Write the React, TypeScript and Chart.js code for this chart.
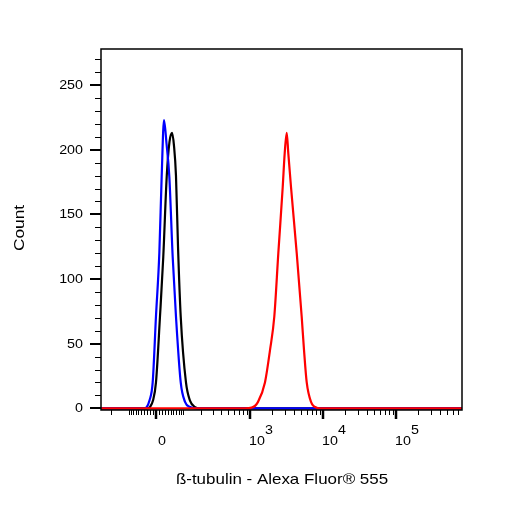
import React, { useEffect, useRef } from "react";
import { Chart, registerables } from "chart.js";

Chart.register(...registerables);

// Display transform (biexponential-like) constants for the fluorescence axis
const ZERO_POS = 1.712;
const WIDTH_W = 103.3;
const biex = (v: number) => ZERO_POS + Math.asinh(v / WIDTH_W) / Math.LN10;

// Histogram data (x in display units: decades, y = count)
const blueX = [0.96, 1.50, 1.55, 1.585, 1.623, 1.667, 1.712, 1.758, 1.790, 1.822, 1.856, 1.895, 1.941, 1.986, 2.051, 2.110, 2.178, 2.25, 5.91];
const blueY = [0, 0, 0, 1, 6, 20, 71, 120, 179, 223, 205, 179, 117, 71, 20, 5, 1, 0, 0];

const blackX = [0.96, 1.55, 1.589, 1.630, 1.671, 1.712, 1.767, 1.812, 1.859, 1.897, 1.932, 1.959, 1.986, 2.014, 2.051, 2.123, 2.178, 2.247, 2.301, 5.91];
const blackY = [0, 0, 0, 1, 6, 20, 71, 117, 179, 206, 213, 203, 180, 125, 71, 20, 6, 1, 0, 0];

const redX = [0.96, 2.90, 2.932, 3.023, 3.110, 3.205, 3.274, 3.333, 3.388, 3.448, 3.475, 3.503, 3.525, 3.562, 3.640, 3.708, 3.740, 3.777, 3.836, 3.914, 3.986, 5.91];
const redY = [0, 0, 0, 0.5, 5, 20, 45, 71, 120, 171, 197, 213, 197, 171, 120, 71, 45, 20, 5, 0.5, 0, 0];

// Axis ticks
const yMajorTicks = [0, 50, 100, 150, 200, 250];
const yMinorTicks = [10, 20, 30, 40, 60, 70, 80, 90, 110, 120, 130, 140, 160, 170, 180, 190, 210, 220, 230, 240, 260, 270];
const xMajorValues = [0, 1000, 10000, 100000];
const xMajorExponents = ["", "3", "4", "5"];
const xMinorValues = [
  -200, -100, -90, -80, -70, -60, -50, -40, -30, -20, -10,
  10, 20, 30, 40, 50, 60, 70, 80, 90,
  100, 200, 300, 400, 500, 600, 700, 800, 900,
  2000, 3000, 4000, 5000, 6000, 7000, 8000, 9000,
  20000, 30000, 40000, 50000, 60000, 70000, 80000, 90000,
  200000, 300000, 400000, 500000, 600000, 700000, 800000, 900000,
];

const xTitle = "ß-tubulin - Alexa Fluor® 555";
const yTitle = "Count";

const FONT = "'Liberation Sans', Arial, sans-serif";

const toPoints = (xs: number[], ys: number[]) => xs.map((x, i) => ({ x, y: ys[i] }));

function drawText(ctx: CanvasRenderingContext2D, text: string, x: number, y: number, sx: number) {
  ctx.save();
  ctx.translate(x, y);
  ctx.scale(sx, 1);
  ctx.fillText(text, 0, 0);
  ctx.restore();
}

const axesPlugin = {
  id: "flowAxes",
  afterDraw(chart: any) {
    const { ctx, chartArea: a, scales } = chart;
    const xs = scales.x;
    const ys = scales.y;
    ctx.save();
    ctx.strokeStyle = "#000";
    ctx.fillStyle = "#000";
    // frame
    ctx.lineWidth = 1.5;
    ctx.strokeRect(a.left, a.top, a.right - a.left, a.bottom - a.top);

    // y ticks
    ctx.lineWidth = 1;
    yMinorTicks.forEach((v) => {
      const py = Math.round(ys.getPixelForValue(v)) + 0.5;
      ctx.beginPath();
      ctx.moveTo(a.left - 6, py);
      ctx.lineTo(a.left, py);
      ctx.stroke();
    });
    ctx.lineWidth = 2;
    ctx.font = `13px ${FONT}`;
    ctx.textAlign = "right";
    ctx.textBaseline = "middle";
    yMajorTicks.forEach((v) => {
      const py = Math.round(ys.getPixelForValue(v));
      ctx.beginPath();
      ctx.moveTo(a.left - 11, py);
      ctx.lineTo(a.left, py);
      ctx.stroke();
      drawText(ctx, String(v), a.left - 18, py, 1.1);
    });

    // x ticks
    ctx.lineWidth = 1;
    xMinorValues.forEach((v) => {
      const px = Math.round(xs.getPixelForValue(biex(v))) + 0.5;
      if (px < a.left || px > a.right) return;
      ctx.beginPath();
      ctx.moveTo(px, a.bottom);
      ctx.lineTo(px, a.bottom + 5);
      ctx.stroke();
    });
    ctx.lineWidth = 2.5;
    ctx.textAlign = "left";
    ctx.textBaseline = "alphabetic";
    xMajorValues.forEach((v, i) => {
      const px = Math.round(xs.getPixelForValue(biex(v)));
      ctx.beginPath();
      ctx.moveTo(px, a.bottom);
      ctx.lineTo(px, a.bottom + 9);
      ctx.stroke();
      const exp = xMajorExponents[i];
      if (!exp) {
        drawText(ctx, "0", px + 2, 445, 1.1);
      } else {
        drawText(ctx, "10", px - 1, 445, 1.1);
        const w = ctx.measureText("10").width * 1.1;
        drawText(ctx, exp, px + w - 1, 434, 1.1);
      }
    });

    // titles
    ctx.font = `15px ${FONT}`;
    ctx.textAlign = "center";
    ctx.textBaseline = "alphabetic";
    drawText(ctx, xTitle, 282, 484, 1.13);
    ctx.save();
    ctx.translate(24, 228);
    ctx.rotate(-Math.PI / 2);
    drawText(ctx, yTitle, 0, 0, 1.15);
    ctx.restore();
    ctx.restore();
  },
};

export default function App() {
  const ref = useRef<HTMLCanvasElement | null>(null);
  useEffect(() => {
    if (!ref.current) return;
    const common = { borderWidth: 2.2, pointRadius: 0, cubicInterpolationMode: "monotone" as const, fill: false };
    const chart = new Chart(ref.current, {
      type: "line",
      data: {
        datasets: [
          { label: "red", data: toPoints(redX, redY), borderColor: "#ff0000", ...common },
          { label: "blue", data: toPoints(blueX, blueY), borderColor: "#0000ff", ...common },
          { label: "black", data: toPoints(blackX, blackY), borderColor: "#000000", ...common },
        ],
      },
      options: {
        responsive: false,
        animation: false,
        devicePixelRatio: 1,
        layout: { padding: { left: 101, top: 49, right: 44, bottom: 96 } },
        plugins: { legend: { display: false }, tooltip: { enabled: false } },
        scales: {
          x: { type: "linear", min: 0.959, max: 5.904, display: false },
          y: { type: "linear", min: -1.3, max: 277.9, display: false },
        },
      },
      plugins: [axesPlugin],
    });
    return () => chart.destroy();
  }, []);
  return (
    <canvas
      ref={ref}
      width={506}
      height={506}
      style={{ position: "absolute", left: 0, top: 0, width: 506, height: 506, background: "#fff" }}
    />
  );
}
